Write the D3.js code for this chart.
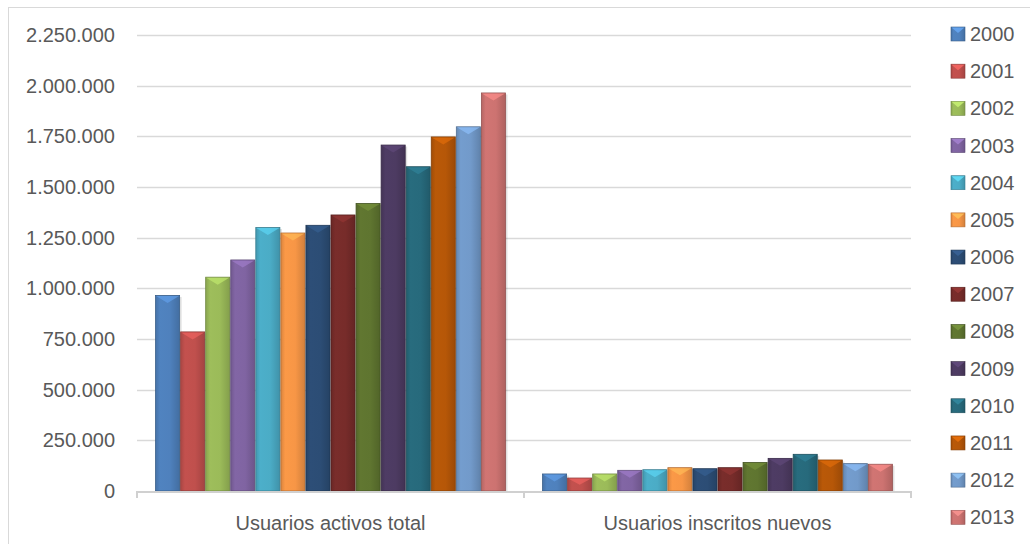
<!DOCTYPE html>
<html>
<head>
<meta charset="utf-8">
<script src="https://cdn.jsdelivr.net/npm/d3@7"></script>
<style>
  html, body { margin: 0; padding: 0; background: #fff; }
  svg { display: block; font-family: "Liberation Sans", Arial, sans-serif; }
</style>
</head>
<body>
<svg id="chart" width="1030" height="544"></svg>
<script>
const categories = ["Usuarios activos total", "Usuarios inscritos nuevos"];
const years = ["2000","2001","2002","2003","2004","2005","2006","2007","2008","2009","2010","2011","2012","2013"];
const activosTotal = [965000, 785000, 1055000, 1140000, 1300000, 1273000, 1311000, 1362000, 1419000, 1707000, 1600000, 1747000, 1797000, 1964000];
const inscritosNuevos = [84000, 64000, 84000, 102000, 105000, 115000, 110000, 115000, 141000, 161000, 181000, 153000, 135000, 132000];
const yTicks = [0, 250000, 500000, 750000, 1000000, 1250000, 1500000, 1750000, 2000000, 2250000];
const colors = ["#4F81BD","#C0504D","#9BBB59","#8064A2","#4BACC6","#F79646","#2C4D75","#772C2A","#5F7530","#4D3B62","#276A7C","#B65708","#729ACA","#CD7371"];

const seriesByCategory = [activosTotal, inscritosNuevos];

const svg = d3.select("#chart");
const W = 1030, H = 544;
const plot = { left: 137, right: 911, top: 35, bottom: 491 };
const textColor = "#595959";
const gridColor = "#d9d9d9";

// outer chart border
svg.append("rect").attr("x", 8.5).attr("y", 7.5).attr("width", W - 8).attr("height", H)
  .attr("fill", "none").attr("stroke", gridColor).attr("stroke-width", 1);

const locale = d3.formatLocale({ decimal: ",", thousands: ".", grouping: [3], currency: ["", "€"] });
const fmt = locale.format(",d");

const y = d3.scaleLinear().domain([0, 2250000]).range([plot.bottom, plot.top]);
const x0 = d3.scaleBand().domain(categories).range([plot.left, plot.right]).padding(0);
const x1 = d3.scaleBand().domain(years).range([0, x0.bandwidth()]).paddingInner(0).paddingOuter(0.72);

// gridlines
svg.append("g").selectAll("line").data(yTicks.filter(d => d > 0)).join("line")
  .attr("x1", plot.left).attr("x2", plot.right)
  .attr("y1", d => Math.round(y(d)) + 0.5).attr("y2", d => Math.round(y(d)) + 0.5)
  .attr("stroke", gridColor).attr("stroke-width", 1.3);

// y axis labels
const yAxis = d3.axisLeft(y).tickValues(yTicks).tickFormat(fmt).tickSize(0).tickPadding(22);
const gy = svg.append("g").attr("transform", `translate(${plot.left},0)`).call(yAxis);
gy.select(".domain").remove();
gy.selectAll("text").attr("fill", textColor).attr("font-size", 20)
  .attr("font-family", "'Liberation Sans', Arial, sans-serif");

// defs: gradients per colour
const defs = svg.append("defs");
colors.forEach((c, i) => {
  const g = defs.append("linearGradient").attr("id", "grad" + i).attr("x1", "0").attr("x2", "1").attr("y1", "0").attr("y2", "0");
  const base = d3.color(c);
  g.append("stop").attr("offset", "0%").attr("stop-color", base.darker(0.35));
  g.append("stop").attr("offset", "18%").attr("stop-color", base.brighter(0.05));
  g.append("stop").attr("offset", "60%").attr("stop-color", base);
  g.append("stop").attr("offset", "100%").attr("stop-color", base.darker(0.45));
});

// bars
const groups = svg.append("g").selectAll("g").data(categories).join("g")
  .attr("transform", d => `translate(${x0(d)},0)`);

groups.each(function(cat, ci) {
  const vals = seriesByCategory[ci];
  const g = d3.select(this);
  const data = years.map((yr, i) => ({ yr, i, v: vals[i] }));
  // shadow
  g.selectAll("rect.shadow").data(data).join("rect").attr("class", "shadow")
    .attr("x", d => x1(d.yr) + 1.5).attr("y", d => y(d.v) + 1.5)
    .attr("width", x1.bandwidth()).attr("height", d => plot.bottom - y(d.v))
    .attr("fill", "#000").attr("opacity", 0.12);
  g.selectAll("rect.bar").data(data).join("rect").attr("class", "bar")
    .attr("x", d => x1(d.yr) + 0.5).attr("y", d => y(d.v))
    .attr("width", x1.bandwidth() - 1).attr("height", d => plot.bottom - y(d.v))
    .attr("fill", d => `url(#grad${d.i})`)
    .attr("stroke", d => d3.color(colors[d.i]).darker(0.9))
    .attr("stroke-width", 0.8);
  // top bevel highlight
  g.selectAll("path.bevel").data(data).join("path").attr("class", "bevel")
    .attr("d", d => {
      const bx = x1(d.yr) + 1, bw = x1.bandwidth() - 2, by = y(d.v) + 0.5;
      const h = Math.min(7, (plot.bottom - by) / 2);
      return `M${bx},${by} L${bx + bw},${by} L${bx + bw / 2},${by + h} Z`;
    })
    .attr("fill", d => d3.color(colors[d.i]).brighter(0.6))
    .attr("opacity", 0.7);
});

// x axis line and ticks
svg.append("line").attr("x1", plot.left).attr("x2", plot.right)
  .attr("y1", plot.bottom + 1).attr("y2", plot.bottom + 1)
  .attr("stroke", "#d0d0d0").attr("stroke-width", 2);
const tickXs = [plot.left, x0(categories[1]), plot.right];
svg.append("g").selectAll("line").data(tickXs).join("line")
  .attr("x1", d => d).attr("x2", d => d)
  .attr("y1", plot.bottom).attr("y2", plot.bottom + 7)
  .attr("stroke", "#d0d0d0").attr("stroke-width", 2);

// category labels
svg.append("g").selectAll("text").data(categories).join("text")
  .attr("x", d => x0(d) + x0.bandwidth() / 2).attr("y", 523)
  .attr("text-anchor", "middle").attr("dominant-baseline", "central")
  .attr("fill", textColor).attr("font-size", 20).text(d => d);

// legend
const legendY = d3.scalePoint().domain(years).range([34, 517.3]);
const lg = svg.append("g").selectAll("g").data(years).join("g")
  .attr("transform", d => `translate(951,${legendY(d)})`);
lg.append("rect").attr("x", 0).attr("y", -7).attr("width", 14).attr("height", 14)
  .attr("fill", (d, i) => `url(#grad${i})`)
  .attr("stroke", (d, i) => d3.color(colors[i]).darker(0.9)).attr("stroke-width", 0.6);
lg.append("path").attr("d", "M0.5,-6.5 L13.5,-6.5 L7,-1 Z")
  .attr("fill", (d, i) => d3.color(colors[i]).brighter(0.8)).attr("opacity", 0.75);
lg.append("text").attr("x", 19).attr("y", 0).attr("dominant-baseline", "central")
  .attr("fill", textColor).attr("font-size", 20).text(d => d);
</script>
</body>
</html>
